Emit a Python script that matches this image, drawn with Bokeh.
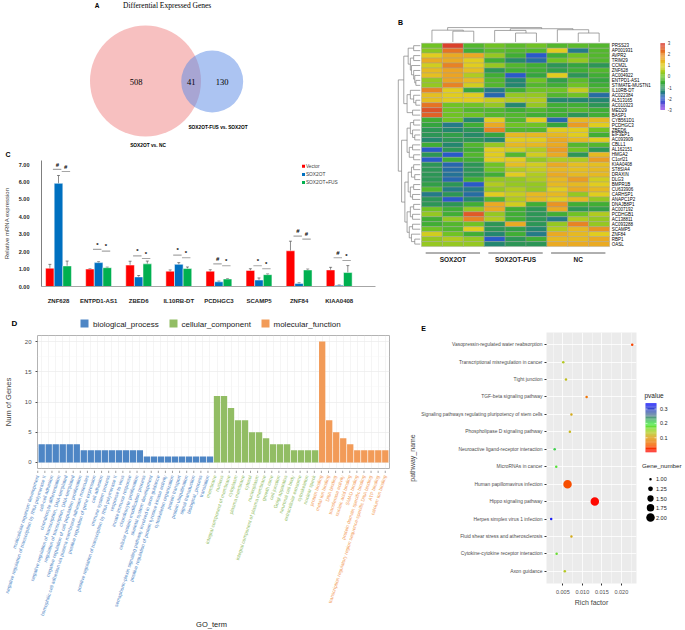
import numpy as np
from bokeh.plotting import figure
from bokeh.models import (Range1d, FactorRange, ColumnDataSource, FixedTicker,
                          PrintfTickFormatter, Whisker, TeeHead)
from bokeh.layouts import row, column
from bokeh.transform import linear_cmap
from bokeh.core.properties import value
from bokeh.embed import file_html
from bokeh.resources import INLINE

SANS = "Liberation Sans"
SERIF = "Liberation Serif"

# ---------------- data: A (Venn) ----------------
venn_title = "Differential Expressed Genes"
venn_sets = ["SOX2OT vs. NC", "SOX2OT-FUS vs. SOX2OT"]
venn_counts = [508, 41, 130]          # only set1, shared, only set2

# ---------------- data: C (qPCR) ----------------
qpcr_genes = ["ZNF628", "ENTPD1-AS1", "ZBED6", "IL10RB-DT", "PCDHGC3", "SCAMP5", "ZNF84", "KIAA0408"]
qpcr_groups = ["Vector", "SOX2OT", "SOX2OT+FUS"]
vector_mean = [1.05, 1.00, 1.23, 0.88, 0.88, 0.92, 2.05, 0.95]
vector_err = [0.22, 0.02, 0.22, 0.07, 0.08, 0.10, 0.55, 0.15]
sox_mean = [5.92, 1.37, 0.55, 1.27, 0.27, 0.37, 0.17, 0.07]
sox_err = [0.45, 0.05, 0.08, 0.10, 0.04, 0.12, 0.04, 0.02]
fus_mean = [1.18, 1.08, 1.30, 1.03, 0.43, 0.68, 0.95, 0.80]
fus_err = [0.28, 0.03, 0.16, 0.09, 0.02, 0.04, 0.05, 0.40]
sig1_sym = ["#", "*", "*", "*", "#", "*", "#", "#"]
sig1_y = [6.72, 2.13, 1.76, 1.80, 1.30, 1.19, 2.89, 1.65]
sig2_sym = ["#", "*", "*", "*", "*", "*", "#", "*"]
sig2_y = [6.60, 2.03, 1.61, 1.65, 1.19, 1.02, 2.72, 1.49]

# ---------------- data: B (heatmap) ----------------
hm_groups = ["SOX2OT", "SOX2OT-FUS", "NC"]
hm_genes = ["PRSS23", "AP001931", "AVPR2", "TRIM29", "CCM2L", "ZNF628", "AC004922", "ENTPD1-AS1",
            "STIMATE-MUSTN1", "IL10RB-DT", "AC022384", "AL513165", "AC010323", "MED29", "BASP1",
            "CYB561D1", "PCDHGC3", "ZBED6", "EIF3EP1", "AC093909", "CBLL1", "AL162151", "HMGA2",
            "C1orf21", "KIAA0408", "ST8SIA4", "DRAXIN", "DLG3", "BMPR1B", "CU633906", "CARHSP1",
            "ANAPC1P2", "DNAJB8P1", "AC007192", "PCDHGB1", "AC138811", "AC093288", "SCAMP5",
            "ZNF84", "RBP1", "OASL"]
hm_values = [
    [0.0, 2.8, -0.3, 0.0, -0.2, 0.0, -0.3, -0.2, -0.3],
    [0.2, 2.2, -0.5, -0.2, -0.3, -0.3, 1.0, -1.5, -0.3],
    [1.0, 1.5, 1.5, 0.3, -0.5, -2.0, -0.5, 0.0, -0.3],
    [1.5, 1.5, 1.0, -0.5, -1.2, -1.7, 0.0, 0.3, -0.3],
    [0.8, 2.0, 1.0, 0.3, -0.3, -0.5, -1.0, -0.7, -1.0],
    [1.3, 1.6, 1.2, -1.0, -0.5, -0.5, -0.8, -0.5, -0.3],
    [1.2, 1.6, 0.5, -0.5, -2.0, -0.7, 1.0, -1.0, -0.5],
    [0.3, 1.6, 1.3, -0.3, -1.3, 0.0, -0.8, -0.2, -0.7],
    [0.3, 2.0, 0.8, -0.3, -1.3, -0.3, -0.5, 0.0, -0.5],
    [2.0, 1.0, -0.7, -1.5, -0.5, 0.0, 0.0, 0.7, -0.3],
    [1.2, 1.0, 1.0, -1.8, 0.3, 0.3, -0.3, 0.0, -1.7],
    [1.2, 1.0, 1.0, 0.7, 0.5, 0.5, -1.3, -1.3, -1.3],
    [2.2, 0.0, 0.0, 0.3, -1.3, 0.3, -0.5, -0.5, -1.0],
    [2.6, 0.0, -0.3, -0.3, -0.5, -0.3, -0.5, -0.3, -0.5],
    [2.4, 0.0, 0.0, -0.3, -0.3, -0.5, -0.5, -1.0, -0.5],
    [-0.5, 0.0, -1.3, 1.0, -0.3, 1.0, -1.8, 1.3, 1.3],
    [-0.7, -1.5, -0.5, 1.5, 0.0, 0.0, -0.7, 1.7, 1.0],
    [-1.0, -1.3, -1.0, 2.0, -0.3, -0.3, 1.0, 1.0, 0.0],
    [-1.0, -0.8, -1.2, -0.7, 1.3, 1.3, 1.3, 1.0, -0.5],
    [-1.3, -1.0, -1.0, -1.3, 1.0, 1.0, 1.5, 1.3, 1.0],
    [-0.5, -1.3, -0.3, 0.3, 1.3, 1.3, 1.5, -0.3, -0.3],
    [-2.0, -1.0, -0.5, 1.0, 0.8, 0.5, 1.7, 0.0, -1.0],
    [-1.0, -2.0, -0.3, 1.0, -0.3, 0.8, 1.5, -1.0, 1.3],
    [-2.0, -0.5, -0.5, 1.0, 1.0, 0.3, 0.5, 0.5, 1.7],
    [-1.0, -1.8, -1.0, 0.0, 1.2, 0.8, 1.5, 1.2, 1.2],
    [-1.0, -1.7, -1.0, 0.0, 0.5, 0.7, 1.3, 1.2, 1.3],
    [-1.0, -1.6, -1.0, -0.5, 1.0, 0.5, 1.5, 1.3, 1.3],
    [-1.0, -1.8, -0.5, 0.3, 0.3, 0.5, 1.3, 1.7, 0.8],
    [-0.8, -1.0, -2.0, 0.5, 0.3, 0.3, 1.3, 1.3, 1.0],
    [-0.3, -1.5, -1.5, 0.3, 0.5, 0.3, 1.0, 1.5, 1.3],
    [-1.5, -1.0, -1.7, 1.0, 0.7, 1.3, 1.3, 0.3, 1.0],
    [-1.0, -2.0, -1.3, -0.3, 0.5, 1.3, 1.0, 1.3, 0.3],
    [-1.0, -1.0, -0.5, 1.5, 0.8, -0.5, 1.8, -0.5, -0.5],
    [0.0, -0.5, 0.3, 1.5, -0.5, -1.0, 1.5, -1.0, -0.8],
    [0.3, -0.5, 2.5, 0.3, -0.5, -1.0, -0.5, 0.0, 0.5],
    [-0.5, 0.3, 2.0, 0.5, -0.5, -1.0, -1.5, 0.5, 0.3],
    [-0.5, -0.3, 0.0, -1.0, 1.5, -1.0, 0.3, 2.0, 0.3],
    [0.0, -0.3, 1.0, -1.0, -0.8, -1.3, 0.5, 1.3, 1.8],
    [0.8, 0.0, -0.5, -1.3, -0.5, -1.5, 1.5, 1.3, 1.0],
    [0.3, 0.5, 0.3, -2.0, -1.0, -0.5, 1.3, 1.3, 1.5],
    [0.3, 0.3, 0.3, -1.3, -1.0, -1.0, 1.5, 1.5, 1.5],
]
hm_ticks = [3, 2, 1, 0, -1, -2, -3]
# dendrograms: (height, left, right); leaves are indices
col_tree = (1.0, (0.82, 0, (0.75, 1, 2)),
            (0.92, (0.80, 3, (0.62, 4, 5)), (0.85, 6, (0.62, 7, 8))))
row_tree = (1.0,
            (0.75,
             (0.55, (0.3, 0, 1), (0.45, (0.3, 2, 3), (0.4, 4, (0.3, 5, (0.25, 6, (0.2, 7, 8)))))),
             (0.6, (0.45, 9, (0.3, 10, (0.2, 11, 12))), (0.35, 13, 14))),
            (0.85,
             (0.6, (0.45, (0.3, 15, 16), (0.35, 17, (0.25, 18, 19))), (0.5, (0.35, 20, 21), (0.3, 22, 23))),
             (0.7,
              (0.55, (0.4, (0.3, 24, 25), (0.25, 26, 27)), (0.45, (0.3, 28, 29), (0.35, 30, 31))),
              (0.6, (0.45, (0.3, 32, 33), (0.35, 34, 35)),
               (0.5, (0.35, 36, 37), (0.4, 38, (0.25, 39, 40)))))))

# ---------------- data: D (GO) ----------------
go_categories = ["biological_process", "cellular_component", "molecular_function"]
go_bp = ["multicellular organism development",
         "negative regulation of transcription by RNA polymerase II",
         "cell-cell adhesion", "chondrocyte differentiation",
         "negative regulation of transcription, DNA-templated",
         "regulation of transcription, DNA-templated",
         "negative regulation of cell population proliferation",
         "homophilic cell adhesion via plasma membrane adhesion molecules",
         "positive regulation of gene expression", "cell adhesion",
         "immune system process",
         "positive regulation of transcription by RNA polymerase II",
         "response to virus", "innate immune response", "chondrocyte proliferation",
         "cellular protein modification process", "skeletal system development",
         "semaphorin-plexin signaling pathway involved in axon guidance",
         "positive regulation of protein tyrosine kinase activity",
         "cytoskeleton organization", "protein transport", "protein ubiquitination",
         "signal transduction", "biological_process", "translation"]
go_bp_n = [3, 3, 3, 3, 3, 3, 2, 2, 2, 2, 2, 2, 2, 2, 2, 1, 1, 1, 1, 1, 1, 1, 1, 1, 1]
go_cc = ["membrane", "nucleus", "integral component of membrane", "cytoplasm",
         "plasma membrane", "cytosol", "nucleoplasm",
         "integral component of plasma membrane", "growth cone", "cell junction",
         "Golgi apparatus", "neuronal cell body", "extracellular exosome",
         "cytoskeleton", "nuclear speck"]
go_cc_n = [11, 11, 9, 7, 7, 5, 5, 4, 3, 3, 3, 2, 2, 2, 2]
go_mf = ["protein binding", "metal ion binding", "DNA binding", "transferase activity",
         "nucleic acid binding", "SMAD binding", "protein domain specific binding",
         "transcription regulatory region sequence-specific DNA binding",
         "ATP binding", "calcium ion binding"]
go_mf_n = [20, 7, 5, 4, 3, 2, 2, 2, 2, 2]
go_colors = ["#4E86C5", "#92BD64", "#F29B58"]

# ---------------- data: E (KEGG) ----------------
pathways = ["Vasopressin-regulated water reabsorption",
            "Transcriptional misregulation in cancer", "Tight junction",
            "TGF-beta signaling pathway",
            "Signaling pathways regulating pluripotency of stem cells",
            "Phospholipase D signaling pathway",
            "Neuroactive ligand-receptor interaction", "MicroRNAs in cancer",
            "Human papillomavirus infection", "Hippo signaling pathway",
            "Herpes simplex virus 1 infection", "Fluid shear stress and atherosclerosis",
            "Cytokine-cytokine receptor interaction", "Axon guidance"]
rich_factor = [0.0228, 0.0051, 0.0058, 0.0111, 0.0072, 0.0068, 0.0029, 0.0033,
               0.0062, 0.0132, 0.0020, 0.0072, 0.0034, 0.0055]
pvalue = [0.035, 0.135, 0.125, 0.065, 0.11, 0.12, 0.21, 0.185,
          0.04, 0.005, 0.33, 0.11, 0.175, 0.135]
gene_number = [1, 1, 1, 1, 1, 1, 1, 1, 2, 2, 1, 1, 1, 1]
gene_number_legend = [1.00, 1.25, 1.50, 1.75, 2.00]
pvalue_ticks = [0.1, 0.2, 0.3]


# ---------------- helpers ----------------
def bare_fig(w, h, xr, yr):
    p = figure(width=w, height=h, x_range=xr, y_range=yr, output_backend="svg",
               toolbar_location=None, min_border=0, x_axis_location=None, y_axis_location=None,
               frame_align=False)
    p.grid.visible = False
    p.outline_line_color = None
    return p


def txt(p, xs, ys, ts, size, color="black", bold=False, font=SANS, align="center",
        baseline="middle", angle=0.0):
    d = dict(x=list(xs), y=list(ys), t=list(ts))
    if isinstance(color, (list, tuple)):
        d["c"] = list(color)
        col = "c"
    else:
        col = color
    src = ColumnDataSource(d)
    p.text(x="x", y="y", text="t", source=src, text_font=value(font),
           text_font_size=f"{size}px", text_color=col,
           text_font_style="bold" if bold else "normal", text_align=align,
           text_baseline=baseline, angle=angle)


def make_palette(stops, n=256):
    pos = np.array([s[0] for s in stops], dtype=float)
    cols = np.array([s[1] for s in stops], dtype=float)
    t = np.linspace(pos[0], pos[-1], n)
    out = []
    for v in t:
        rgb = [int(round(np.interp(v, pos, cols[:, k]))) for k in range(3)]
        out.append("#%02x%02x%02x" % tuple(rgb))
    return out


def dendro(node, segs):
    if isinstance(node, int):
        return node + 0.5, 0.0
    h, l, r = node
    pl, hl = dendro(l, segs)
    pr, hr = dendro(r, segs)
    segs.append(([pl, pl, pr, pr], [hl, h, h, hr]))
    return (pl + pr) / 2.0, h


def dot_diameter(n):
    return float(np.sqrt(2.5 ** 2 + (n - 1.0) * (8.5 ** 2 - 2.5 ** 2)))


# ================= A: Venn (page coordinates) =================
pA = bare_fig(395, 158, Range1d(0, 395), Range1d(158, 0))
totals = [venn_counts[0] + venn_counts[1], venn_counts[1] + venn_counts[2]]
k = 55.5 / np.sqrt(totals[0])
radii = [k * np.sqrt(t) for t in totals]
pA.circle(x=[145.0], y=[80.5], radius=radii[0], fill_color="#EE7B7B", fill_alpha=0.48, line_color=None)
pA.circle(x=[211.7], y=[81.0], radius=radii[1], fill_color="#5A8AE6", fill_alpha=0.5, line_color=None)
txt(pA, [135.5, 190.7, 221.7], [81, 81, 81], [str(c) for c in venn_counts], 8.5, font=SERIF)
txt(pA, [147.5, 217.5], [145, 127], venn_sets, 4.8, bold=True)
txt(pA, [166.7], [5], [venn_title], 7.5, font=SERIF)
txt(pA, [96.7], [5], ["A"], 6.5, bold=True)
txt(pA, [7.5], [154], ["C"], 7, bold=True)

# ================= C: qPCR bars =================
C_left, C_right = 41, 20
C_frame_w = 395 - C_left - C_right
pC = figure(width=395, height=152, x_range=Range1d(-0.424, -0.424 + C_frame_w / 40.1),
            y_range=Range1d(0, 7.23), min_border_left=C_left, min_border_right=C_right,
            min_border_top=2, min_border_bottom=24, output_backend="svg", toolbar_location=None,
            frame_align=False)
pC.grid.visible = False
pC.outline_line_color = None
bar_cols = ["#FF0000", "#0070C0", "#00B050"]
offsets = [-0.215, 0.0, 0.215]
xs0 = np.arange(len(qpcr_genes))
for means, errs, off, colr in zip([vector_mean, sox_mean, fus_mean],
                                  [vector_err, sox_err, fus_err], offsets, bar_cols):
    xs = xs0 + off
    src = ColumnDataSource(dict(x=xs, top=means,
                                up=[m + e for m, e in zip(means, errs)],
                                lo=[m - e for m, e in zip(means, errs)]))
    pC.vbar(x="x", top="top", width=0.215, source=src, fill_color=colr,
            line_color="white", line_width=0.5)
    pC.add_layout(Whisker(source=src, base="x", upper="up", lower="lo",
                          line_color="#404040", line_width=0.6,
                          upper_head=TeeHead(size=3, line_color="#404040", line_width=0.6),
                          lower_head=TeeHead(size=3, line_color="#404040", line_width=0.6)))
pC.segment(x0=xs0 - 0.14, y0=sig1_y, x1=xs0 + 0.07, y1=sig1_y, line_color="#A6A6A6", line_width=1.1)
pC.segment(x0=xs0 + 0.08, y0=sig2_y, x1=xs0 + 0.29, y1=sig2_y, line_color="#A6A6A6", line_width=1.1)
txt(pC, xs0 - 0.03, [v + 0.1 for v in sig1_y], sig1_sym, 6, bold=True, baseline="bottom")
txt(pC, xs0 + 0.18, [v + 0.1 for v in sig2_y], sig2_sym, 6, bold=True, baseline="bottom")
# legend
leg_y = [6.9, 6.43, 5.97]
pC.scatter(x=[6.11] * 3, y=leg_y, marker="square", size=3, fill_color=bar_cols, line_color=None)
txt(pC, [6.17] * 3, leg_y, qpcr_groups, 4.8, color="#404040", align="left")
pC.yaxis.ticker = FixedTicker(ticks=[0, 1, 2, 3, 4, 5, 6, 7])
pC.yaxis.formatter = PrintfTickFormatter(format="%.2f")
pC.xaxis.ticker = FixedTicker(ticks=list(range(len(qpcr_genes))))
pC.xaxis.major_label_overrides = {i: g for i, g in enumerate(qpcr_genes)}
for ax in (pC.xaxis, pC.yaxis):
    ax.major_label_text_font = SANS
    ax.major_label_text_font_style = "bold"
    ax.major_label_text_color = "#262626"
    ax.major_tick_line_color = None
    ax.minor_tick_line_color = None
    ax.axis_line_color = "#A6A6A6"
pC.yaxis.axis_line_color = "#7F7F7F"
pC.xaxis.major_label_text_font_size = "6px"
pC.yaxis.major_label_text_font_size = "5.5px"
pC.xaxis.major_label_standoff = 5
pC.yaxis.major_label_standoff = 6
pC.yaxis.axis_label = "Relative mRNA expression"
pC.yaxis.axis_label_text_font = SANS
pC.yaxis.axis_label_text_font_size = "6px"
pC.yaxis.axis_label_text_font_style = "normal"
pC.yaxis.axis_label_text_color = "#404040"
pC.yaxis.axis_label_standoff = 6

# ================= B: heatmap =================
B_w, B_h = 289, 310
cw, rh = 20.9, 4.96
bx0 = -26.0 / cw
by_top = -42.7 / rh
pB = bare_fig(B_w, B_h, Range1d(bx0, bx0 + B_w / cw), Range1d(by_top + B_h / rh, by_top))
hm_pal = make_palette([(-3, (140, 60, 230)), (-2, (40, 90, 200)), (-1.3, (35, 135, 110)),
                       (-0.6, (55, 170, 55)), (0, (110, 195, 35)), (0.6, (190, 205, 30)),
                       (1.0, (225, 205, 30)), (1.6, (235, 165, 35)), (2.2, (230, 115, 35)),
                       (3, (215, 50, 45))])
cx, cy, cv = [], [], []
for r, rowv in enumerate(hm_values):
    for c, v in enumerate(rowv):
        cx.append(c + 0.5)
        cy.append(r + 0.5)
        cv.append(v)
srcB = ColumnDataSource(dict(x=cx, y=cy, v=cv))
pB.rect(x="x", y="y", width=1, height=1, source=srcB,
        fill_color=linear_cmap("v", hm_pal, -3, 3), line_color="#A0A0A0", line_width=0.4)
txt(pB, [9.1] * len(hm_genes), [r + 0.5 for r in range(len(hm_genes))], hm_genes, 4.5, align="left")
# dendrograms
segs = []
dendro(col_tree, segs)
pB.multi_line(xs=[s[0] for s in segs], ys=[[-0.25 - h * 2.9 for h in s[1]] for s in segs],
              line_color="#808080", line_width=0.7)
segs = []
dendro(row_tree, segs)
pB.multi_line(xs=[[-0.06 - h * 1.05 for h in s[1]] for s in segs], ys=[s[0] for s in segs],
              line_color="#808080", line_width=0.7)
# group annotations
gi = np.arange(len(hm_groups))
pB.segment(x0=gi * 3 + 0.2, y0=[42.3] * 3, x1=gi * 3 + 2.8, y1=[42.3] * 3,
           line_color="#606060", line_width=1)
txt(pB, gi * 3 + 1.5, [43.6] * 3, hm_groups, 6.5, bold=True, color="#202020")
txt(pB, [-1.0], [-4.2], ["B"], 7, bold=True)
# colour bar
cb_x0, cb_x1, cb_top, cb_bot = 11.43, 11.65, 0.0, 13.4
lv = np.linspace(3, -3, 61)
pB.quad(left=cb_x0, right=cb_x1,
        top=[cb_top + (3 - a) / 6 * (cb_bot - cb_top) for a in lv[:-1]],
        bottom=[cb_top + (3 - b) / 6 * (cb_bot - cb_top) for b in lv[1:]],
        fill_color=[hm_pal[int((0.5 * (a + b) + 3) / 6 * 255)] for a, b in zip(lv[:-1], lv[1:])],
        line_color=None)
txt(pB, [11.78] * len(hm_ticks), [cb_top + (3 - t) / 6 * (cb_bot - cb_top) for t in hm_ticks],
    [str(t) for t in hm_ticks], 4.5, align="left", color="#333333")

# ================= header of bottom row (page coordinates) =================
pH = bare_fig(684, 22, Range1d(0, 684), Range1d(332, 310))
txt(pH, [14], [323], ["D"], 8, bold=True)
pH.rect(x=[84, 173, 265], y=[323] * 3, width=8, height=8, fill_color=go_colors, line_color=None)
txt(pH, [92.5, 181, 273], [323.5] * 3, go_categories, 8, align="left", color="#1A1A1A")
txt(pH, [423], [328], ["E"], 7, bold=True)

# ================= D: GO bars =================
go_terms = go_bp + go_cc + go_mf
go_counts = go_bp_n + go_cc_n + go_mf_n
go_col = [go_colors[0]] * len(go_bp) + [go_colors[1]] * len(go_cc) + [go_colors[2]] * len(go_mf)
gx = list(range(len(go_terms)))
xr0, xr1 = -0.6, len(go_terms) - 1 + 0.6
D_w, D_left, D_right = 400, 33, 11
pD = figure(width=D_w, height=138, x_range=Range1d(xr0, xr1), y_range=Range1d(-1.0, 21.0),
            min_border_left=D_left, min_border_right=D_right, min_border_top=3, min_border_bottom=2,
            x_axis_location=None, output_backend="svg", toolbar_location=None, frame_align=False)
pD.vbar(x=gx, top=go_counts, width=0.9, fill_color=go_col, line_color=None)
pD.xgrid.ticker = FixedTicker(ticks=gx)
pD.xgrid.grid_line_color = "#EBEBEB"
pD.xgrid.grid_line_width = 0.5
pD.yaxis.ticker = FixedTicker(ticks=[0, 5, 10, 15, 20], minor_ticks=[2.5, 7.5, 12.5, 17.5])
pD.ygrid.grid_line_color = "#EBEBEB"
pD.ygrid.grid_line_width = 0.7
pD.ygrid.minor_grid_line_color = "#F4F4F4"
pD.ygrid.minor_grid_line_width = 0.4
pD.outline_line_color = "#B3B3B3"
pD.outline_line_width = 1
pD.yaxis.axis_line_color = None
pD.yaxis.minor_tick_line_color = None
pD.yaxis.major_tick_line_color = "#555555"
pD.yaxis.major_tick_in = 0
pD.yaxis.major_tick_out = 2
pD.yaxis.major_label_standoff = 2
pD.yaxis.major_label_text_font = SANS
pD.yaxis.major_label_text_font_size = "6px"
pD.yaxis.major_label_text_color = "#4D4D4D"
pD.yaxis.axis_label = "Num of Genes"
pD.yaxis.axis_label_text_font = SANS
pD.yaxis.axis_label_text_font_size = "7.5px"
pD.yaxis.axis_label_text_font_style = "normal"
pD.yaxis.axis_label_standoff = 9

u = (D_w - D_left - D_right) / (xr1 - xr0)
pDl = bare_fig(D_w, 159, Range1d(xr0 - D_left / u, xr1 + D_right / u), Range1d(159, 0))
pDl.segment(x0=gx, y0=[0] * len(gx), x1=gx, y1=[2.5] * len(gx), line_color="#666666", line_width=0.6)
txt(pDl, gx, [5] * len(gx), go_terms, 4.9, color=go_col, align="right", angle=1.26)
txt(pDl, [(xr0 + xr1) / 2], [154], ["GO_term"], 7.5, color="#1A1A1A")

# ================= E: KEGG dot plot =================
pal_p = make_palette([(0.0, (255, 0, 0)), (0.15, (245, 100, 0)), (0.3, (220, 160, 20)),
                      (0.42, (170, 210, 40)), (0.58, (60, 230, 60)), (0.75, (90, 130, 150)),
                      (1.0, (20, 20, 255))])
p_hi = 0.34
pE = figure(width=240, height=297, x_range=Range1d(0.0008, 0.0239),
            y_range=FactorRange(factors=pathways[::-1], range_padding=0.2,
                                range_padding_units="absolute"),
            min_border_left=146, min_border_right=4, min_border_top=0, min_border_bottom=46,
            background_fill_color="#EBEBEB", output_backend="svg", toolbar_location=None,
            frame_align=False)
pE.outline_line_color = None
srcE = ColumnDataSource(dict(path=pathways, rich=rich_factor, p=pvalue, n=gene_number,
                             d=[dot_diameter(n) for n in gene_number]))
pE.scatter(x="rich", y="path", size="d", source=srcE,
           fill_color=linear_cmap("p", pal_p, 0, p_hi), line_color=None)
pE.xaxis.ticker = FixedTicker(ticks=[0.005, 0.010, 0.015, 0.020],
                              minor_ticks=[0.0025, 0.0075, 0.0125, 0.0175, 0.0225])
pE.xaxis.formatter = PrintfTickFormatter(format="%.3f")
pE.xgrid.grid_line_color = "white"
pE.xgrid.grid_line_width = 0.8
pE.xgrid.minor_grid_line_color = "white"
pE.xgrid.minor_grid_line_width = 0.4
pE.ygrid.grid_line_color = "white"
pE.ygrid.grid_line_width = 0.8
for ax in (pE.xaxis, pE.yaxis):
    ax.axis_line_color = None
    ax.minor_tick_line_color = None
    ax.major_tick_line_color = "#333333"
    ax.major_tick_in = 0
    ax.major_tick_out = 2
    ax.major_label_standoff = 2
    ax.major_label_text_font = SANS
    ax.major_label_text_color = "#4D4D4D"
    ax.axis_label_text_font = SANS
    ax.axis_label_text_font_size = "7px"
    ax.axis_label_text_font_style = "normal"
    ax.axis_label_standoff = 2
pE.yaxis.major_label_text_font_size = "4.9px"
pE.xaxis.major_label_text_font_size = "5.5px"
pE.xaxis.axis_label = "Rich factor"
pE.yaxis.axis_label = "pathway_name"

# ================= E legends =================
pL = bare_fig(44, 297, Range1d(0, 44), Range1d(297, 0))
cb_top_px, cb_bot_px = 70.7, 119.7


def p_to_px(pv):
    return cb_bot_px - pv / p_hi * (cb_bot_px - cb_top_px)


lv = np.linspace(0, p_hi, 61)
pL.quad(left=5, right=16, bottom=[p_to_px(a) for a in lv[:-1]], top=[p_to_px(b) for b in lv[1:]],
        fill_color=[pal_p[int(0.5 * (a + b) / p_hi * 255)] for a, b in zip(lv[:-1], lv[1:])],
        line_color=None)
ty = [p_to_px(t) for t in pvalue_ticks]
pL.segment(x0=[5] * 3, y0=ty, x1=[7] * 3, y1=ty, line_color="white", line_width=0.6)
pL.segment(x0=[14] * 3, y0=ty, x1=[16] * 3, y1=ty, line_color="white", line_width=0.6)
txt(pL, [19.5] * 3, ty, ["%.1f" % t for t in pvalue_ticks], 5.5, color="#222222", align="left")
txt(pL, [4], [66], ["pvalue"], 6.5, align="left", baseline="bottom", color="#1A1A1A")
leg_py = [146.7, 156.3, 166.0, 175.3, 185.0]
pL.scatter(x=[10] * 5, y=leg_py, size=[dot_diameter(n) for n in gene_number_legend],
           fill_color="black", line_color=None)
txt(pL, [15.5] * 5, leg_py, ["%.2f" % n for n in gene_number_legend], 5.5, color="#222222", align="left")
txt(pL, [1.5], [136], ["Gene_number"], 6.2, align="left", baseline="bottom", color="#1A1A1A")

# ================= layout =================
top = row(column(pA, pC), pB)
bottom = row(column(pD, pDl), pE, pL)
layout = column(top, pH, bottom)

open("out.html", "w").write(file_html(layout, INLINE))
